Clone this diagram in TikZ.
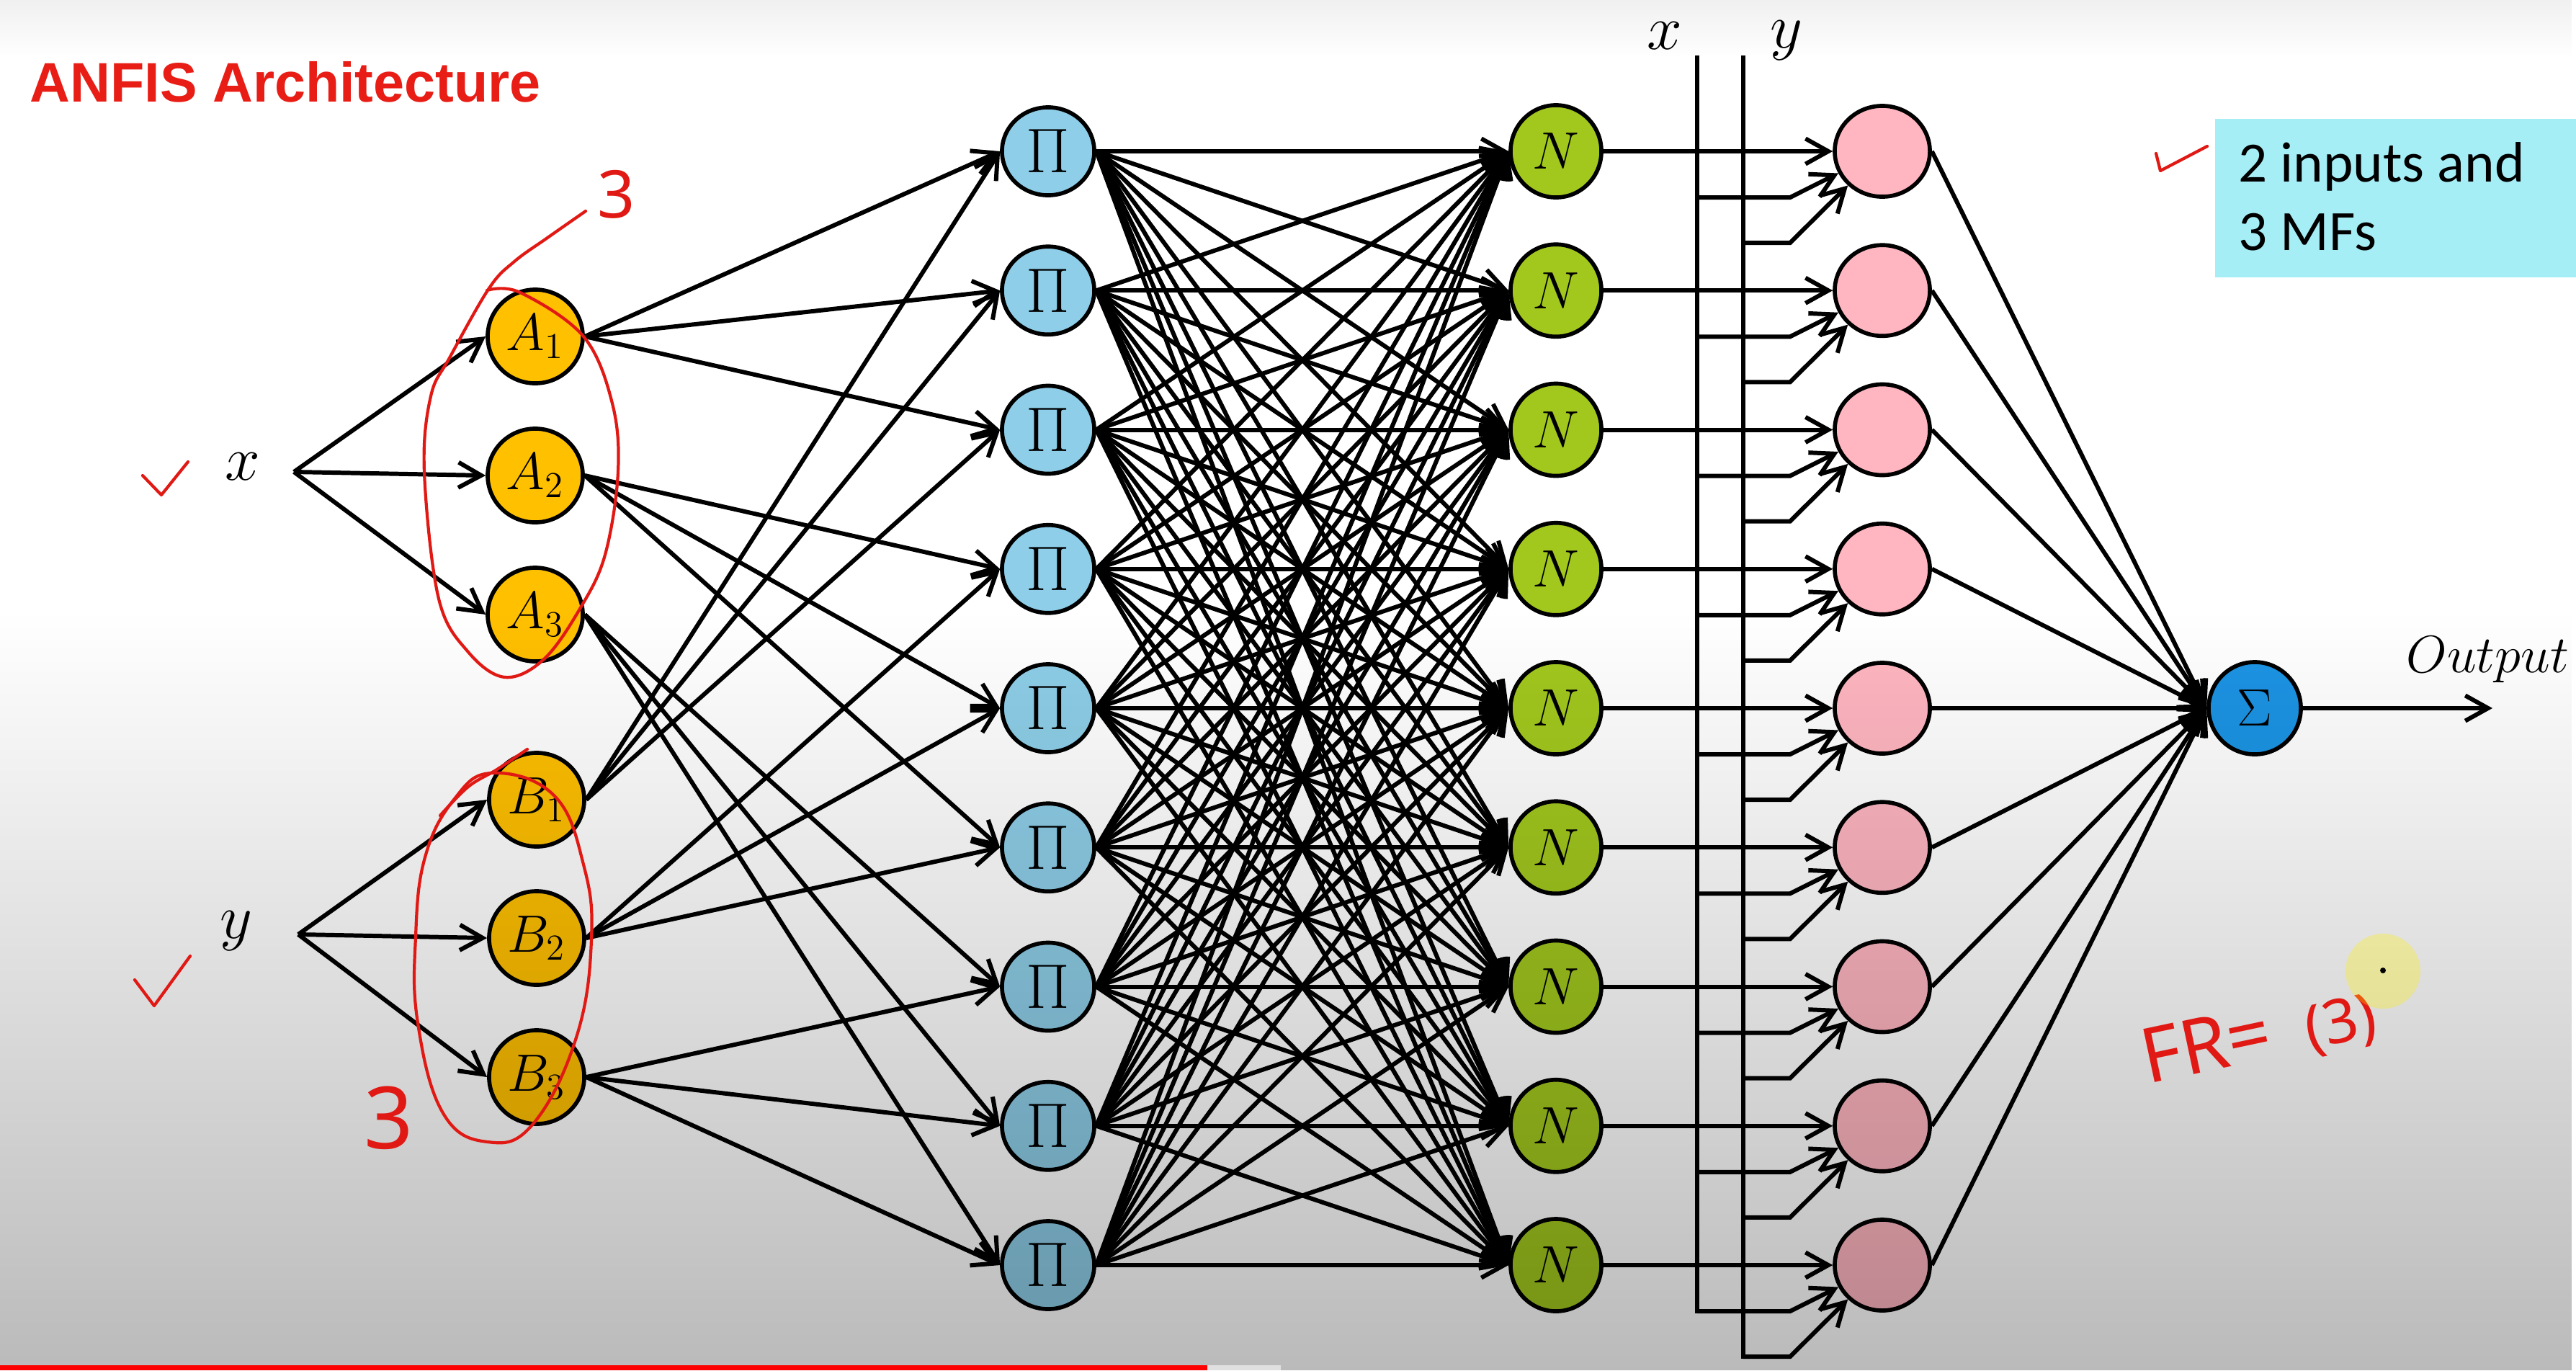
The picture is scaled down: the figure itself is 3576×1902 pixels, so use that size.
\documentclass[tikz,border=0pt]{standalone}
\usepackage{fontspec}
\newfontfamily\titlefont{Liberation Sans}
\newfontfamily\boxfont{Carlito}
\newfontfamily\handfont{Noto Sans}
\usetikzlibrary{shapes.geometric, arrows.meta, fadings}

\definecolor{mfyellow}{RGB}{255,192,0}
\definecolor{piblue}{RGB}{142,206,232}
\definecolor{ngreen}{RGB}{162,200,30}
\definecolor{pinkn}{RGB}{255,182,193}
\definecolor{sigblue}{RGB}{28,148,228}
\definecolor{boxcyan}{RGB}{166,238,246}
\definecolor{titlered}{RGB}{232,30,22}
\definecolor{inkred}{RGB}{225,25,20}
\definecolor{barred}{RGB}{255,0,0}

\tikzfading[name=darkdown, top color=transparent!100, bottom color=transparent!0]
\tikzfading[name=darkup, top color=transparent!0, bottom color=transparent!100]

\tikzset{
  nd/.style={ellipse, draw=black, line width=1.6pt, inner sep=0pt},
  mfnode/.style={nd, fill=mfyellow, minimum width=1.32cm, minimum height=1.30cm, font=\fontsize{22}{24}\selectfont},
  pinode/.style={nd, fill=piblue, minimum width=1.28cm, minimum height=1.22cm, font=\fontsize{23}{25}\selectfont},
  nnode/.style={nd, fill=ngreen, minimum width=1.26cm, minimum height=1.28cm, font=\fontsize{22}{24}\selectfont},
  pknode/.style={nd, fill=pinkn, minimum width=1.32cm, minimum height=1.26cm},
  signode/.style={nd, fill=sigblue, minimum width=1.28cm, minimum height=1.28cm, font=\fontsize{22}{24}\selectfont},
  wire/.style={line width=1.7pt, draw=black},
  arr/.style={wire, -{Straight Barb[length=9pt, width=10pt]}},
  ink/.style={draw=inkred, line width=1.2pt, line cap=round, line join=round},
  handtxt/.style={text=inkred, inner sep=0pt},
  inlabel/.style={inner sep=0pt, font=\fontsize{35}{37}\selectfont},
  buslabel/.style={inner sep=0pt, font=\fontsize{30}{32}\selectfont},
}

\begin{document}
\begin{tikzpicture}[x=0.01cm, y=-0.01cm]
\useasboundingbox (0,0) rectangle (3576,1902);
\fill[white] (0,0) rectangle (3576,1902);
\fill[black, fill opacity=0.06, path fading=darkup] (0,0) rectangle (3576,80);

% title
\node[anchor=base west, inner sep=0pt, text=titlered, font=\titlefont\bfseries\fontsize{22}{24}\selectfont] (title) at (41,141) {ANFIS Architecture};

% info box
\fill[boxcyan] (3075,165) rectangle (3576,385);
\node[anchor=base west, inner sep=0pt, font=\boxfont\fontsize{22.5}{27}\selectfont] (info1) at (3107,252) {2 inputs and};
\node[anchor=base west, inner sep=0pt, font=\boxfont\fontsize{22.5}{27}\selectfont] (info2) at (3107,347) {3 MFs};

% inputs
\node[inlabel] (xin) at (337,648) {$x$};
\node[inlabel] (yin) at (328,1292) {$y$};
\coordinate (xa) at (408,655);
\coordinate (ya) at (414,1297);

% membership nodes
\node[mfnode] (A1) at (743,467) {$A_1$};
\node[mfnode] (A2) at (743,660) {$A_2$};
\node[mfnode] (A3) at (743,853) {$A_3$};
\node[mfnode] (B1) at (745,1110) {$B_1$};
\node[mfnode] (B2) at (745,1302) {$B_2$};
\node[mfnode] (B3) at (745,1495) {$B_3$};

% rule, norm, consequent layers
\foreach \k in {1,...,9} {
  \pgfmathsetmacro\yy{210+(\k-1)*193.25}
  \node[pinode] (P\k) at (1455,\yy) {$\Pi$};
  \node[nnode] (N\k) at (2160,\yy) {$N$};
  \node[pknode] (K\k) at (2613,\yy) {};
  \pgfmathsetmacro\yx{\yy+64}
  \pgfmathsetmacro\yv{\yy+127}
  \coordinate (xj\k) at (2356,\yx);
  \coordinate (xk\k) at (2485,\yx);
  \coordinate (yj\k) at (2420,\yv);
  \coordinate (yk\k) at (2485,\yv);
}

\node[signode] (S) at (3130,983) {$\Sigma$};
\coordinate (outend) at (3460,983);
\node[anchor=base west, inner sep=0pt, font=\fontsize{22}{24}\selectfont] (outlbl) at (3340,933) {$Output$};

% bus lines
\coordinate (xbT) at (2356,80);
\coordinate (ybT) at (2420,80);
\node[buslabel] (xbl) at (2311,50) {$x$};
\node[buslabel] (ybl) at (2480,56) {$y$};
\draw[wire, line cap=rect] (xbT) -- (xj9);
\draw[wire, line cap=rect] (ybT) -- (yj9);

% input -> MF
\foreach \i in {1,2,3} {
  \draw[arr] (xa) -- (A\i.west);
  \draw[arr] (ya) -- (B\i.west);
}

% MF -> Pi
\foreach \i in {1,2,3} {
  \foreach \j in {1,2,3} {
    \pgfmathtruncatemacro\rr{3*(\i-1)+\j}
    \draw[arr] (A\i.east) -- (P\rr.west);
    \draw[arr] (B\i.east) -- (P\rr.west);
  }
}

% Pi -> N (full)
\foreach \i in {1,...,9} {
  \foreach \j in {1,...,9} {
    \draw[arr] (P\i.east) -- (N\j.west);
  }
}

% N -> consequent, bus branches, consequent -> Sigma
\foreach \k in {1,...,9} {
  \draw[arr] (N\k.east) -- (K\k.west);
  \draw[arr] (xj\k) -- (xk\k) -- (K\k);
  \draw[arr] (yj\k) -- (yk\k) -- (K\k);
  \draw[arr] (K\k.east) -- (S.west);
}
\draw[arr] (S.east) -- (outend);

% background darkening toward the bottom
\fill[black, fill opacity=0.27, path fading=darkdown] (0,850) rectangle (3576,1902);

% progress bar
\fill[barred] (0,1895) rectangle (1676,1902);
\fill[black!12] (1676,1895) rectangle (1778,1902);

% red hand annotations
\draw[ink] (198,660) -- (224,687) -- (261,641);
\draw[ink] (187,1360) -- (214,1396) -- (264,1327);
\draw[ink] (2993,213) -- (2999,237) -- (3064,203);

\draw[ink] plot[smooth, tension=0.6] coordinates {(676,403) (722,406) (810,467) (850,560) (858,655) (840,770) (805,845) (755,915) (701,940) (650,905) (609,831) (589,655) (598,550) (625,495) (679,400) (714,363) (760,330) (813,293)};
\draw[ink] plot[smooth cycle, tension=0.7] coordinates {(683,1073) (769,1104) (810,1200) (821,1304) (800,1440) (740,1560) (677,1585) (615,1545) (580,1420) (577,1300) (590,1190) (630,1110)};
\draw[ink] plot[smooth, tension=0.6] coordinates {(611,1132) (650,1092) (690,1068) (732,1040)};

\node[handtxt, font=\handfont\fontsize{26}{28}\selectfont] (h3a) at (856,270) {3};
\node[handtxt, font=\handfont\fontsize{34}{36}\selectfont] (h3b) at (540,1552) {3};
\node[handtxt, anchor=base west, rotate=12, font=\handfont\fontsize{30}{32}\selectfont] (hfr) at (2981,1505) {FR=\hspace{14pt}{\fontsize{24}{26}\selectfont(3)}};

% cursor highlight
\fill[yellow, fill opacity=0.3] (3308,1348) circle (0.52cm);
\fill[black] (3308,1347) circle (0.04cm);
\end{tikzpicture}
\end{document}
